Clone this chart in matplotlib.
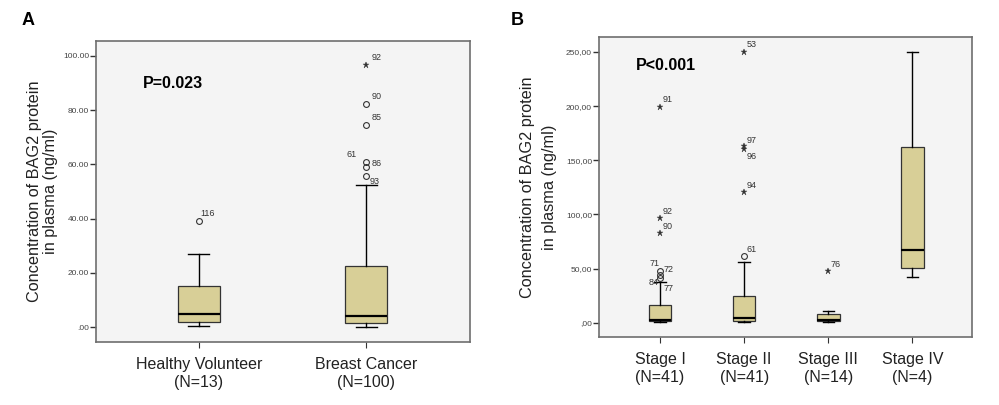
import numpy as np
import matplotlib.pyplot as plt

plt.rcParams['font.family'] = ['Liberation Sans', 'DejaVu Sans']

# ---- panel A data ----
a_groups = ['Healthy Volunteer\n(N=13)', 'Breast Cancer\n(N=100)']
a_whislo = [0.3, 0.0]
a_q1 = [1.8, 1.5]
a_med = [5.0, 4.0]
a_q3 = [15.2, 22.5]
a_whishi = [26.8, 52.4]
# outliers: group, value, marker ('o' outlier, '*' extreme), case label
a_out_grp = [1, 2, 2, 2, 2, 2, 2]
a_out_val = [39.2, 55.8, 58.9, 61.0, 74.6, 82.3, 96.5]
a_out_mk = ['o', 'o', 'o', 'o', 'o', 'o', '*']
a_out_lab = ['116', '93', '86', '61', '85', '90', '92']
a_yticks = [0, 20, 40, 60, 80, 100]
a_yticklabels = ['.00', '20.00', '40.00', '60.00', '80.00', '100.00']

# ---- panel B data ----
b_groups = ['Stage I\n(N=41)', 'Stage II\n(N=41)', 'Stage III\n(N=14)', 'Stage IV\n(N=4)']
b_whislo = [0.5, 0.5, 0.5, 42.2]
b_q1 = [1.5, 1.5, 1.5, 50.8]
b_med = [2.5, 4.6, 2.5, 66.8]
b_q3 = [16.3, 24.4, 8.0, 162.2]
b_whishi = [37.3, 55.8, 10.8, 249.7]
b_out_grp = [1, 1, 1, 1, 1, 1, 2, 2, 2, 2, 2, 3]
b_out_val = [41.0, 44.0, 48.0, 82.5, 96.4, 199.4, 61.3, 120.4, 160.4, 163.4, 250.2, 47.7]
b_out_mk = ['o', 'o', 'o', '*', '*', '*', 'o', '*', '*', '*', '*', '*']
b_out_lab = ['', '', '', '90', '92', '91', '61', '94', '', '', '53', '76']
b_yticks = [0, 50, 100, 150, 200, 250]
b_yticklabels = [',00', '50,00', '100,00', '150,00', '200,00', '250,00']

BOX = '#d8cf97'
BG = '#f4f4f4'
FRAME = '#6e6e6e'
YLABEL = 'Concentration of BAG2 protein\nin plasma (ng/ml)'


def draw_panel(ax, groups, whislo, q1, med, q3, whishi, grp, val, mk, width, lsp):
    stats = []
    for i in range(len(groups)):
        stats.append(dict(whislo=whislo[i], q1=q1[i], med=med[i], q3=q3[i],
                          whishi=whishi[i], fliers=[]))
    ax.bxp(stats, positions=range(1, len(groups) + 1), widths=width, patch_artist=True,
           showfliers=False,
           boxprops=dict(facecolor=BOX, edgecolor='#333333', linewidth=0.9),
           medianprops=dict(color='black', linewidth=1.6),
           whiskerprops=dict(color='black', linewidth=1.0),
           capprops=dict(color='black', linewidth=1.0),
           capwidths=width * 0.5)
    for g, v, m in zip(grp, val, mk):
        if m == 'o':
            ax.plot(g, v, 'o', mfc='none', mec='#333333', ms=4.2, mew=0.8)
        else:
            ax.plot(g, v, '*', color='#333333', ms=5, mew=0.3)
    ax.set_facecolor(BG)
    for s in ax.spines.values():
        s.set_color(FRAME)
        s.set_linewidth(1.2)
    ax.tick_params(axis='y', length=4, width=1, color='#333333', labelsize=6,
                   labelcolor='#444444', pad=1)
    ax.tick_params(axis='x', length=4, width=0.8, color='#333333', labelsize=11.5,
                   labelcolor='#222222', pad=7)
    ax.set_xticks(range(1, len(groups) + 1))
    ax.set_xticklabels(groups, linespacing=1.25)
    ax.set_ylabel(YLABEL, fontsize=11.7, color='#222222', linespacing=lsp)


fig = plt.figure(figsize=(9.99, 4.05), dpi=100)

# panel A
axA = fig.add_axes([0.0961, 0.1556, 0.3744, 0.7432])
draw_panel(axA, a_groups, a_whislo, a_q1, a_med, a_q3, a_whishi,
           a_out_grp, a_out_val, a_out_mk, 0.25, 1.05)
axA.set_xlim(0.385, 2.62)
axA.set_ylim(-5.5, 105.5)
axA.set_yticks(a_yticks)
axA.set_yticklabels(a_yticklabels)
axA.yaxis.set_label_coords(-0.102, 0.5)
lab_off = {'116': (0.01, 2.8), '93': (0.02, -2.0), '86': (0.03, 1.5), '61': (-0.12, 2.5),
           '85': (0.03, 2.8), '90': (0.03, 2.8), '92': (0.03, 2.8)}
for g, v, t in zip(a_out_grp, a_out_val, a_out_lab):
    dx, dy = lab_off[t]
    axA.text(g + dx, v + dy, t, fontsize=6.5, color='#333333', va='center', ha='left')
axA.text(0.125, 0.845, 'P=0.023', transform=axA.transAxes, fontsize=11.5, fontweight='bold')
fig.text(0.022, 0.95, 'A', fontsize=13, fontweight='bold', va='center')

# panel B
axB = fig.add_axes([0.5996, 0.1679, 0.3734, 0.7407])
draw_panel(axB, b_groups, b_whislo, b_q1, b_med, b_q3, b_whishi,
           b_out_grp, b_out_val, b_out_mk, 0.27, 1.55)
axB.set_xlim(0.274, 4.71)
axB.set_ylim(-13.2, 263.8)
axB.set_yticks(b_yticks)
axB.set_yticklabels(b_yticklabels)
axB.yaxis.set_label_coords(-0.113, 0.5)
for g, v, t in zip(b_out_grp, b_out_val, b_out_lab):
    if t:
        axB.text(g + 0.03, v + 6.5, t, fontsize=6.5, color='#333333', va='center', ha='left')
# labels for the crowded points
axB.text(2.03, 168.5, '97', fontsize=6.5, color='#333333', va='center', ha='left')
axB.text(2.03, 153.5, '96', fontsize=6.5, color='#333333', va='center', ha='left')
axB.text(0.87, 54.5, '71', fontsize=6.5, color='#333333', va='center', ha='left')
axB.text(1.04, 49.0, '72', fontsize=6.5, color='#333333', va='center', ha='left')
axB.text(0.87, 37.5, '84', fontsize=6.5, color='#333333', va='center', ha='left')
axB.text(1.04, 32.0, '77', fontsize=6.5, color='#333333', va='center', ha='left')
axB.text(0.10, 0.89, 'P<0.001', transform=axB.transAxes, fontsize=11.5, fontweight='bold')
fig.text(0.511, 0.95, 'B', fontsize=13, fontweight='bold', va='center')

fig.savefig('out.png', dpi=100)
